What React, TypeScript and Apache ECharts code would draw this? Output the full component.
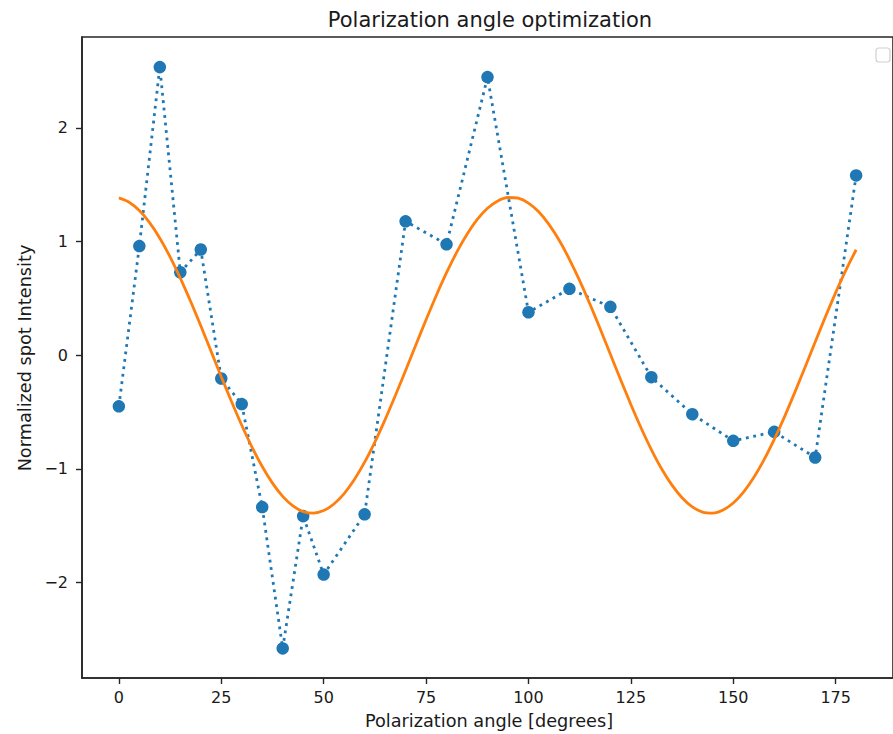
import React, { useEffect, useRef } from "react";
import * as echarts from "echarts";

const angles = [0, 5, 10, 15, 20, 25, 30, 35, 40, 45, 50, 60, 70, 80, 90, 100, 110, 120, 130, 140, 150, 160, 170, 180];
const intensity = [-0.45, 0.96, 2.535, 0.73, 0.93, -0.205, -0.43, -1.336, -2.58, -1.415, -1.93, -1.4, 1.178, 0.976, 2.447, 0.378, 0.584, 0.426, -0.193, -0.519, -0.753, -0.674, -0.9, 1.582];

const fitAngles = [
  0, 2.5, 5, 7.5, 10, 12.5, 15, 17.5, 20, 22.5, 25, 27.5, 30, 32.5, 35, 37.5, 40, 42.5, 45, 47.5,
  50, 52.5, 55, 57.5, 60, 62.5, 65, 67.5, 70, 72.5, 75, 77.5, 80, 82.5, 85, 87.5, 90, 92.5, 95, 97.5,
  100, 102.5, 105, 107.5, 110, 112.5, 115, 117.5, 120, 122.5, 125, 127.5, 130, 132.5, 135, 137.5, 140, 142.5, 145, 147.5,
  150, 152.5, 155, 157.5, 160, 162.5, 165, 167.5, 170, 172.5, 175, 177.5, 180,
];
const fitValues = [
  1.384, 1.346, 1.273, 1.166, 1.03, 0.866, 0.679, 0.475, 0.259, 0.036, -0.189, -0.407, -0.616, -0.808, -0.979, -1.125, -1.242, -1.326, -1.376, -1.39,
  -1.367, -1.309, -1.217, -1.093, -0.941, -0.764, -0.567, -0.355, -0.135, 0.09, 0.312, 0.526, 0.726, 0.907, 1.065, 1.195, 1.293, 1.358, 1.388, 1.382,
  1.339, 1.262, 1.151, 1.011, 0.844, 0.656, 0.45, 0.233, 0.009, -0.215, -0.433, -0.64, -0.83, -0.999, -1.141, -1.254, -1.334, -1.38, -1.389, -1.362,
  -1.3, -1.204, -1.076, -0.921, -0.741, -0.542, -0.329, -0.108, 0.117, 0.338, 0.551, 0.749, 0.928,
];

const xTicks = [0, 25, 50, 75, 100, 125, 150, 175];
const yTicks = [-2, -1, 0, 1, 2];

const titleText = "Polarization angle optimization";
const xLabel = "Polarization angle [degrees]";
const yLabel = "Normalized spot Intensity";

const FONT = "DejaVu Sans";
const INK = "#262626";

export default function App() {
  const ref = useRef<HTMLDivElement>(null);
  useEffect(() => {
    if (!ref.current) return;
    const chart = echarts.init(ref.current, null, { renderer: "svg" });
    const minus = (v: number) => String(v).replace("-", "\u2212");
    chart.setOption({
      animation: false,
      backgroundColor: "#ffffff",
      grid: {
        left: 82,
        top: 37,
        width: 818,
        height: 641,
        show: true,
        borderColor: INK,
        borderWidth: 1.6,
        backgroundColor: "transparent",
      },
      xAxis: {
        type: "value",
        min: -9,
        max: 189,
        splitLine: { show: false },
        axisLine: { show: true, onZero: false, lineStyle: { color: INK, width: 1.6 } },
        axisTick: {
          show: true,
          customValues: xTicks,
          length: 6,
          lineStyle: { color: INK, width: 1.4 },
        },
        axisLabel: {
          customValues: xTicks,
          margin: 11,
          fontFamily: FONT,
          fontSize: 16,
          color: "#1a1a1a",
          formatter: minus,
        },
      },
      yAxis: {
        type: "value",
        min: -2.84,
        max: 2.8,
        splitLine: { show: false },
        axisLine: { show: true, onZero: false, lineStyle: { color: INK, width: 1.6 } },
        axisTick: {
          show: true,
          customValues: yTicks,
          length: 6,
          lineStyle: { color: INK, width: 1.4 },
        },
        axisLabel: {
          customValues: yTicks,
          margin: 14,
          fontFamily: FONT,
          fontSize: 16,
          color: "#1a1a1a",
          formatter: minus,
        },
      },
      graphic: [
        {
          type: "text",
          x: 490,
          y: 20,
          style: {
            text: titleText,
            fontFamily: FONT,
            fontSize: 21,
            fill: "#1a1a1a",
            textAlign: "center",
            textVerticalAlign: "middle",
          },
        },
        {
          type: "text",
          x: 489,
          y: 721,
          style: {
            text: xLabel,
            fontFamily: FONT,
            fontSize: 17.7,
            fill: "#1a1a1a",
            textAlign: "center",
            textVerticalAlign: "middle",
          },
        },
        {
          type: "text",
          x: 25,
          y: 358,
          rotation: Math.PI / 2,
          style: {
            text: yLabel,
            fontFamily: FONT,
            fontSize: 17.7,
            fill: "#1a1a1a",
            textAlign: "center",
            textVerticalAlign: "middle",
          },
        },
        {
          type: "rect",
          shape: { x: 876, y: 48, width: 14, height: 14, r: 3 },
          style: { fill: "#ffffff", stroke: "#d0d0d0", lineWidth: 1.2 },
          z: 100,
        },
      ],
      series: [
        {
          type: "line",
          data: angles.map((a, i) => [a, intensity[i]]),
          symbol: "circle",
          symbolSize: 12.5,
          itemStyle: { color: "#1f77b4" },
          lineStyle: { color: "#1f77b4", width: 2.8, type: [2.8, 4.7], cap: "butt" },
          z: 2,
        },
        {
          type: "line",
          data: fitAngles.map((a, i) => [a, fitValues[i]]),
          symbol: "none",
          smooth: 0.3,
          lineStyle: { color: "#ff7f0e", width: 2.8 },
          z: 3,
        },
      ],
    });
    return () => chart.dispose();
  }, []);
  return (
    <div
      ref={ref}
      style={{ position: "fixed", left: 0, top: 0, width: 893, height: 734 }}
    />
  );
}
